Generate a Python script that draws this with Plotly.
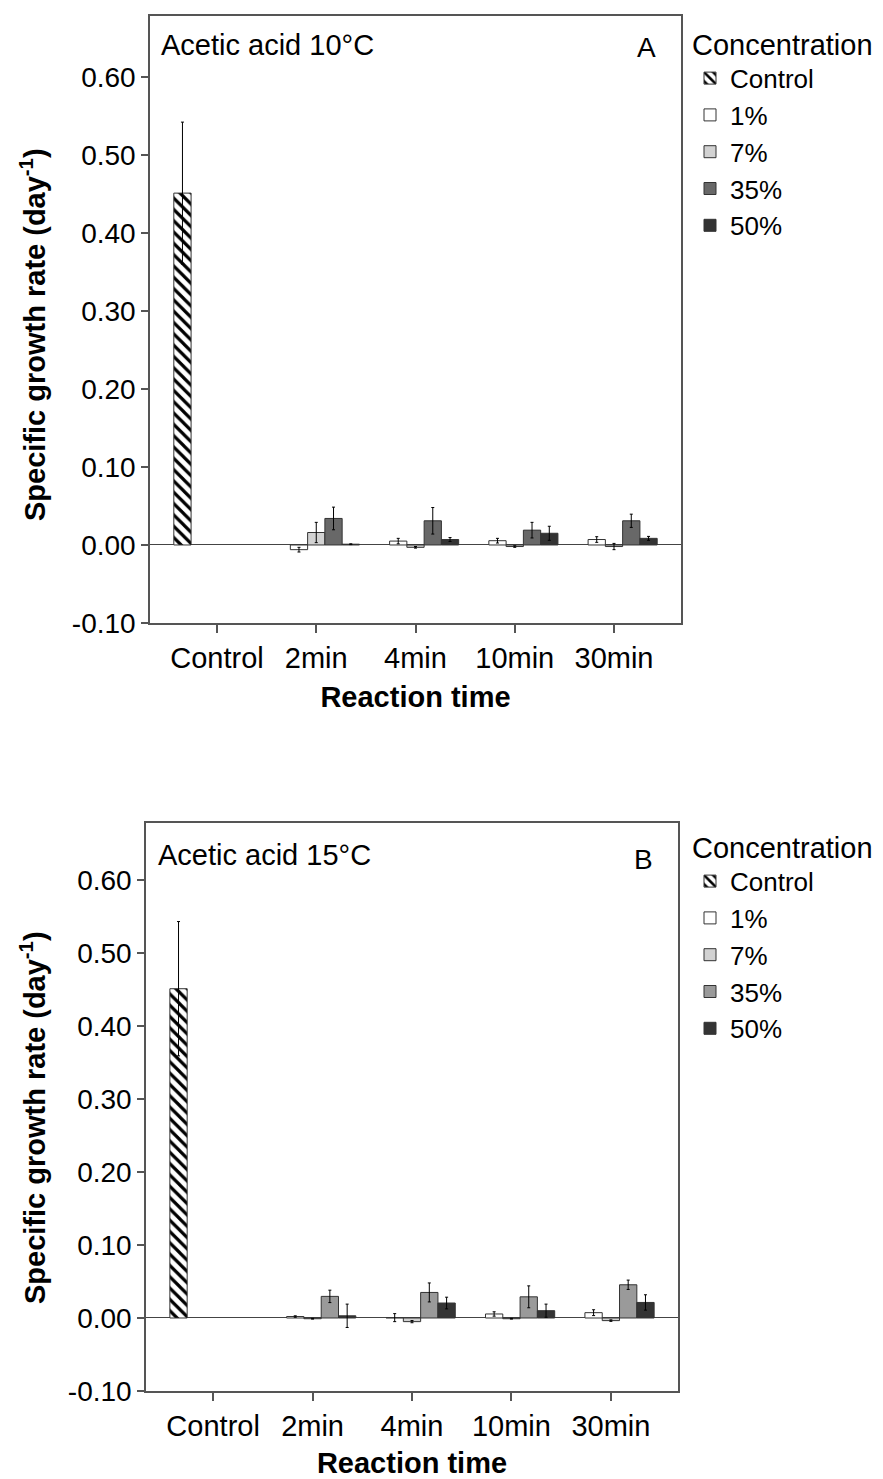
import plotly.graph_objects as go

# page is shown with the browser's default 8px body margin
OFF = 8
PAGE_W, PAGE_H = 883, 1479
W, H = PAGE_W - OFF, PAGE_H - OFF


def fx(x):
    return (x - OFF) / W


def fy(y):
    return 1 - (y - OFF) / H


categories = ["Control", "2min", "4min", "10min", "30min"]
series_names = ["Control", "1%", "7%", "35%", "50%"]

# Panel A: Acetic acid 10°C
a_control = [0.451, None, None, None, None]
a_control_err = [0.091, 0, 0, 0, 0]
a_1 = [None, -0.006, 0.005, 0.0055, 0.007]
a_1_err = [0, 0.003, 0.0035, 0.003, 0.0036]
a_7 = [None, 0.016, -0.003, -0.002, -0.002]
a_7_err = [0, 0.013, 0.001, 0.001, 0.004]
a_35 = [None, 0.034, 0.031, 0.019, 0.031]
a_35_err = [0, 0.0145, 0.017, 0.010, 0.0085]
a_50 = [None, 0.001, 0.007, 0.015, 0.0085]
a_50_err = [0, 0.0005, 0.0025, 0.009, 0.0025]

# Panel B: Acetic acid 15°C
b_control = [0.451, None, None, None, None]
b_control_err = [0.092, 0, 0, 0, 0]
b_1 = [None, 0.002, 0.0005, 0.0055, 0.0073]
b_1_err = [0, 0.001, 0.0055, 0.003, 0.004]
b_7 = [None, -0.001, -0.005, -0.001, -0.0036]
b_7_err = [0, 0.0005, 0.0015, 0.0005, 0.001]
b_35 = [None, 0.0296, 0.035, 0.029, 0.0455]
b_35_err = [0, 0.0085, 0.013, 0.015, 0.0064]
b_50 = [None, 0.003, 0.0205, 0.010, 0.0213]
b_50_err = [0, 0.016, 0.008, 0.009, 0.0105]

y_ticks = [-0.10, 0.00, 0.10, 0.20, 0.30, 0.40, 0.50, 0.60]
y_tick_labels = ["-0.10", "0.00", "0.10", "0.20", "0.30", "0.40", "0.50", "0.60"]

colors_a = ["white", "white", "#d2d2d2", "#686868", "#333333"]
colors_b = ["white", "white", "#d2d2d2", "#9a9a9a", "#343434"]

FONT = "Liberation Sans, Arial, sans-serif"
LINE = "#555555"
YTITLE = "<b>Specific growth rate (day<sup>-1</sup>)</b>"

fig = go.Figure()

panels = [
    ("x", "y", "legend", colors_a,
     [(a_control, a_control_err), (a_1, a_1_err), (a_7, a_7_err), (a_35, a_35_err), (a_50, a_50_err)]),
    ("x2", "y2", "legend2", colors_b,
     [(b_control, b_control_err), (b_1, b_1_err), (b_7, b_7_err), (b_35, b_35_err), (b_50, b_50_err)]),
]

for xa, ya, lg, cols, data in panels:
    for i, (name, (vals, errs)) in enumerate(zip(series_names, data)):
        marker = dict(color=cols[i], line=dict(color="#333333", width=1))
        if i == 0:
            marker["pattern"] = dict(shape="\\", size=8, solidity=0.4,
                                     fgcolor="black", bgcolor="white", fillmode="replace")
        fig.add_trace(go.Bar(
            x=categories, y=vals, name=name, xaxis=xa, yaxis=ya, legend=lg,
            marker=marker, offsetgroup=str(i),
            error_y=dict(type="data", array=errs, visible=True, color="black",
                         thickness=1, width=1.5),
        ))


def xaxis(domain, anchor):
    return dict(domain=domain, anchor=anchor, type="category", range=[-0.675, 4.675],
                automargin=False,
                showline=True, linecolor=LINE, linewidth=1.5, mirror=True,
                ticks="outside", ticklen=8, tickcolor=LINE, tickwidth=1.5,
                tickfont=dict(family=FONT, size=29, color="black"),
                title=dict(text="<b>Reaction time</b>", standoff=14,
                           font=dict(family=FONT, size=29, color="black")),
                showgrid=False, zeroline=False)


def yaxis(domain, anchor):
    return dict(domain=domain, anchor=anchor, range=[-0.1, 0.678],
                automargin=False,
                tickvals=y_ticks, ticktext=y_tick_labels,
                showline=True, linecolor=LINE, linewidth=1.5, mirror=True,
                ticks="outside", ticklen=7, tickcolor=LINE, tickwidth=1.5,
                tickfont=dict(family=FONT, size=28, color="black"),
                showgrid=False, zeroline=True, zerolinecolor="#444444", zerolinewidth=1.2)


def legend(ytop):
    return dict(x=fx(690), y=ytop, xanchor="left", yanchor="top",
                title=dict(text="Concentration", font=dict(family=FONT, size=29, color="black")),
                font=dict(family=FONT, size=26, color="black"),
                bgcolor="rgba(0,0,0,0)", tracegroupgap=0, traceorder="normal",
                itemclick=False)


def note(text, x, y, xanchor="left", size=29, angle=0):
    return dict(text=text, x=fx(x), y=fy(y), xref="paper", yref="paper",
                xanchor=xanchor, yanchor="middle", showarrow=False, textangle=angle,
                font=dict(family=FONT, size=size, color="black"))


fig.update_layout(
    width=W, height=H,
    margin=dict(l=0, r=0, t=0, b=0, autoexpand=False),
    paper_bgcolor="white", plot_bgcolor="white",
    barmode="group", bargap=0.13, bargroupgap=0,
    xaxis=xaxis([fx(150), fx(681)], "y"),
    yaxis=yaxis([fy(623), fy(16)], "x"),
    xaxis2=xaxis([fx(146), fx(678)], "y2"),
    yaxis2=yaxis([fy(1391), fy(823)], "x2"),
    legend=legend(fy(17)),
    legend2=legend(fy(820)),
    font=dict(family=FONT, color="black"),
    annotations=[
        note("Acetic acid 10°C", 159, 45),
        note("A", 646, 48, xanchor="center", size=28),
        note("Acetic acid 15°C", 156, 855),
        note("B", 643, 860, xanchor="center", size=28),
        note(YTITLE, 33, 335, xanchor="center", angle=-90),
        note(YTITLE, 33, 1118, xanchor="center", angle=-90),
    ],
)

fig.write_html("out.html")
